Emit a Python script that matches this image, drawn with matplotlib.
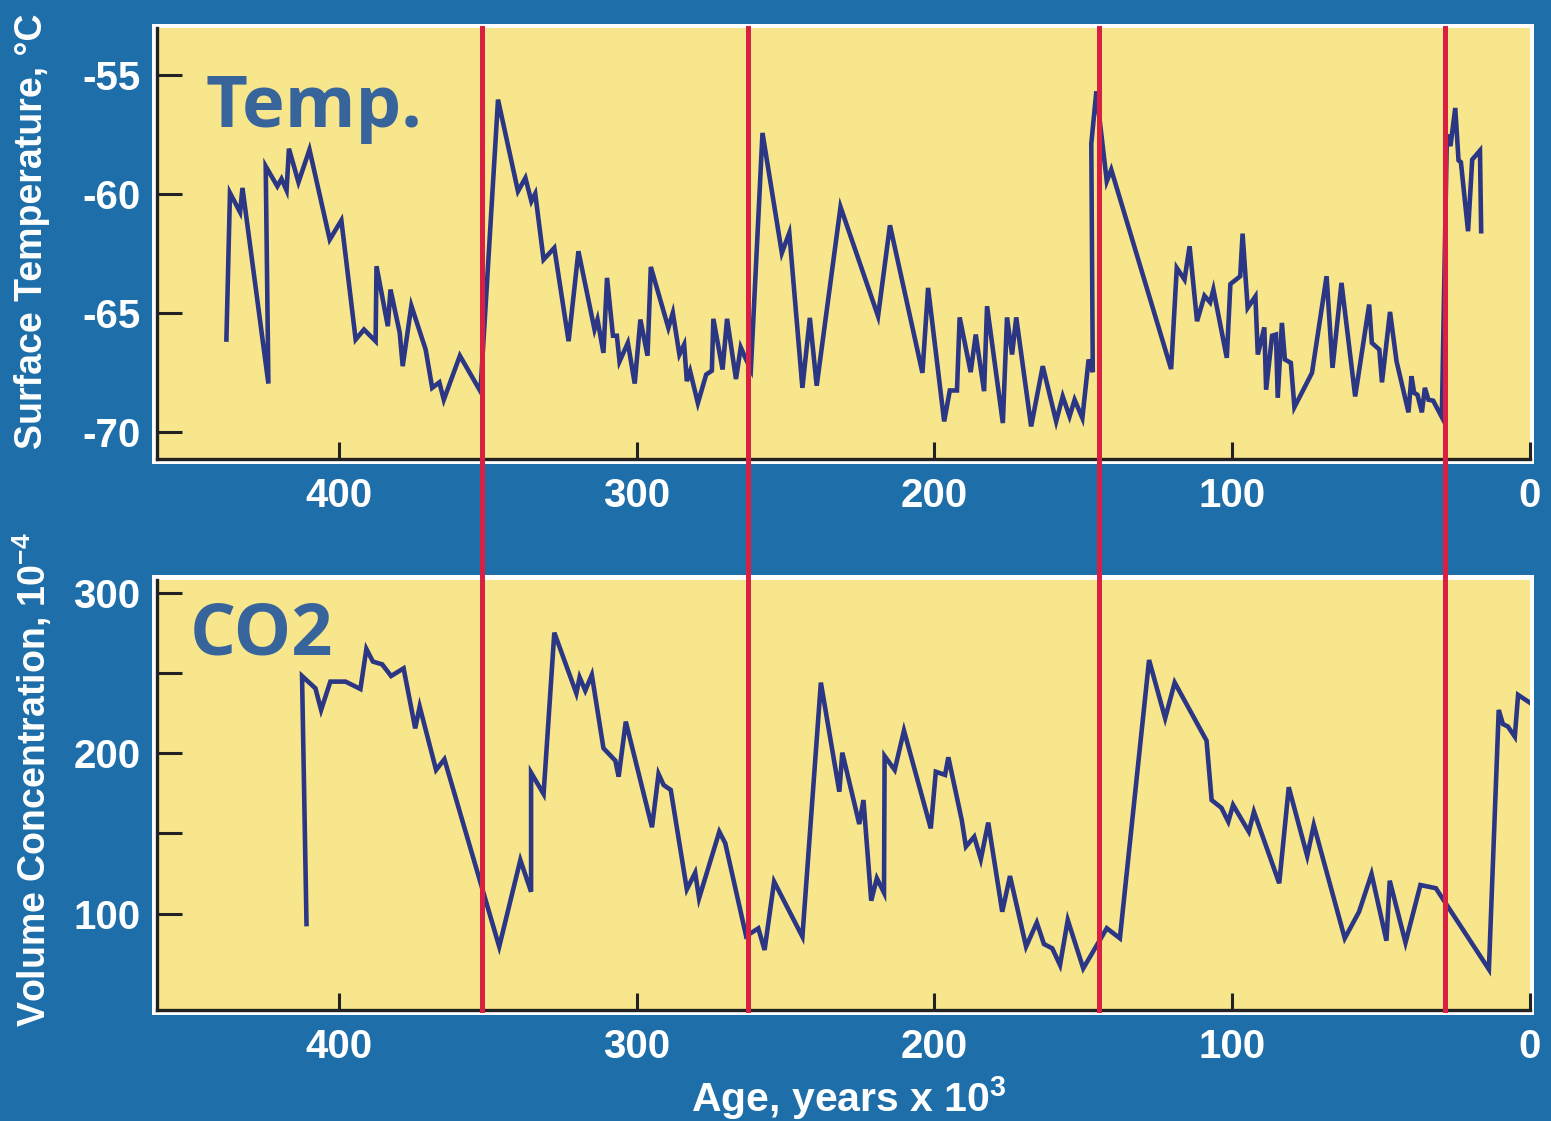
import matplotlib
matplotlib.use("Agg")
import matplotlib.pyplot as plt
from matplotlib.patches import Rectangle
from matplotlib.lines import Line2D
import matplotlib.transforms as mtrans
from matplotlib.ticker import FixedLocator, FuncFormatter

plt.rcParams['mathtext.default'] = 'regular'
plt.rcParams['axes.unicode_minus'] = False

# ---------------- data ----------------
temp_age = [437.7, 436.5, 433.1, 432.3, 423.6, 424.5, 420.6, 419.2, 417.5, 416.7, 413.5, 409.8,
            403.0, 399.1, 394.3, 391.5, 387.6, 387.3, 383.5, 382.6, 379.5, 378.5, 375.6, 370.8,
            368.6, 366.2, 364.7, 359.3, 352.4, 346.5, 339.8, 337.3, 335.3, 334.0, 331.2, 327.6,
            322.8, 319.5, 314.1, 313.1, 311.1, 309.9, 307.9, 306.6, 305.7, 302.9, 300.6, 298.7,
            296.3, 295.2, 289.3, 287.8, 285.6, 284.0, 283.1, 282.0, 279.4, 276.6, 274.7, 274.2,
            271.1, 269.6, 266.6, 265.0, 263.2, 261.6, 257.7, 251.2, 248.7, 244.3, 241.8, 239.5,
            231.5, 218.9, 214.9, 204.0, 202.1, 196.7, 194.8, 192.4, 191.5, 187.8, 186.1, 183.3,
            182.3, 177.0, 175.6, 173.9, 172.5, 167.5, 163.6, 159.1, 156.9, 154.6, 152.9, 150.3,
            148.2, 146.8, 147.3, 145.6, 142.1, 140.6, 120.5, 118.6, 116.0, 114.3, 111.8, 109.3,
            107.4, 106.3, 101.8, 100.6, 97.3, 96.5, 94.8, 92.2, 91.4, 89.2, 88.6, 86.6, 85.3,
            84.7, 83.3, 82.3, 80.3, 79.1, 73.2, 68.3, 66.3, 63.3, 58.7, 54.0, 53.1, 50.6, 49.7,
            47.0, 44.8, 40.8, 39.8, 38.9, 37.8, 36.3, 35.3, 34.1, 32.5, 29.6, 27.9, 26.7, 25.1,
            24.0, 23.2, 20.8, 19.4, 16.8, 16.4]
temp_val = [-66.13, -59.97, -60.78, -59.76, -67.98, -58.85, -59.69, -59.38, -59.86, -58.11, -59.52, -58.15,
            -61.93, -61.12, -66.13, -65.71, -66.2, -63.05, -65.57, -64.03, -65.85, -67.25, -64.71, -66.55,
            -68.16, -67.93, -68.66, -66.81, -68.31, -56.05, -59.90, -59.34, -60.32, -60.0, -62.77, -62.28,
            -66.2, -62.42, -65.71, -65.29, -66.69, -63.54, -65.97, -65.97, -67.05, -66.27, -67.98, -65.29,
            -66.81, -63.08, -65.64, -65.01, -66.76, -66.34, -67.88, -67.46, -68.8, -67.6, -67.44, -65.26,
            -67.39, -65.26, -67.79, -66.46, -66.97, -67.39, -57.45, -62.49, -61.65, -68.16, -65.22, -68.07,
            -60.56, -65.15, -61.33, -67.53, -63.96, -69.57, -68.27, -68.27, -65.2, -67.5, -65.92, -68.3,
            -64.73, -69.64, -65.2, -66.76, -65.2, -69.78, -67.25, -69.57, -68.52, -69.36, -68.66, -69.43,
            -66.97, -67.5, -57.9, -55.7, -59.48, -58.99, -67.37, -63.12, -63.61, -62.21, -65.36, -64.29,
            -64.57, -64.03, -66.9, -63.8, -63.47, -61.68, -64.8, -64.32, -66.76, -65.62, -68.24, -65.97, -65.92,
            -68.58, -65.43, -66.97, -67.11, -68.97, -67.53, -63.47, -67.32, -63.75, -68.52, -64.66, -66.27, -66.55, -67.93,
            -64.97, -67.05, -69.19, -67.67, -68.37, -68.45, -69.19, -68.16, -68.66, -68.7, -69.39, -57.52, -58.0, -56.4,
            -58.6, -58.68, -61.58, -58.57, -58.19, -61.58]

co2_age = [410.8, 412.3, 407.8, 405.9, 402.8, 397.7, 392.7, 390.7, 388.5, 385.4, 382.4, 378.2,
           374.3, 372.8, 367.3, 364.5, 346.1, 339.0, 335.4, 335.4, 331.2, 327.6, 320.2, 319.1,
           317.2, 315.0, 311.1, 307.1, 306.0, 303.6, 294.8, 292.6, 290.9, 288.5, 283.1, 280.3,
           279.0, 272.2, 270.2, 263.2, 259.1, 257.0, 253.8, 244.3, 238.1, 231.9, 230.9, 225.2,
           223.8, 221.2, 219.3, 216.9, 216.7, 213.3, 210.2, 201.2, 199.5, 196.4, 195.3, 190.8,
           189.4, 186.6, 184.4, 181.9, 177.2, 174.6, 169.2, 165.6, 163.2, 160.4, 157.8, 155.2,
           150.0, 142.1, 137.7, 127.9, 122.5, 119.3, 108.6, 106.9, 103.6, 101.3, 99.7, 94.4,
           92.7, 84.2, 81.0, 74.8, 72.6, 62.2, 57.4, 53.2, 48.2, 47.1, 41.8, 36.8, 31.6, 29.4,
           13.8, 10.5, 9.1, 7.4, 5.1, 4.0, 0.1]
co2_val = [93.4, 248.4, 240.7, 227.2, 244.9, 244.9, 240.3, 265.3, 257.4, 255.7, 248.4, 253.2,
           215.7, 229.3, 189.7, 196.4, 79.3, 133.4, 113.6, 188.0, 174.7, 275.5, 237.6, 247.6,
           239.3, 249.1, 203.3, 195.5, 185.5, 219.9, 153.9, 187.2, 180.3, 177.2, 115.1, 125.5,
           109.5, 151.1, 143.9, 85.9, 90.7, 77.2, 119.9, 85.5, 244.3, 176.1, 200.5, 155.9,
           170.9, 108.0, 122.0, 113.0, 198.4, 189.7, 214.3, 153.2, 188.6, 186.6, 197.6, 158.4,
           141.8, 148.0, 133.9, 156.8, 101.1, 123.4, 79.3, 94.3, 80.9, 78.2, 67.8, 95.9,
           65.7, 90.8, 84.5, 258.4, 222.0, 244.3, 208.0, 170.9, 166.0, 157.4, 167.8, 151.1,
           163.6, 118.9, 178.9, 135.9, 155.3, 84.5, 101.1, 124.7, 83.0, 120.5, 81.8, 117.8, 115.8, 109.5,
           65.1, 227.2, 218.4, 216.8, 210.5, 236.6, 231.8]

marker_ages = [351.9, 262.4, 144.7, 28.4]

x_ticks = [400, 300, 200, 100, 0]
temp_ticks = [-55, -60, -65, -70]
co2_ticks = [100, 150, 200, 250, 300]
co2_labelled = [100, 200, 300]

# ---------------- style ----------------
BLUE = "#1e6fa9"
YELLOW = "#f8e68d"
NAVY = "#2b3684"
RED = "#d91f42"
TITLE = "#37649a"
SPINE = "#222222"

W, H = 1551, 1121
fig = plt.figure(figsize=(W / 100, H / 100), dpi=100, facecolor=BLUE)


def rect(l, t, r, b):
    return [l / W, 1 - b / H, (r - l) / W, (b - t) / H]


# white frames behind the axes
for (l, t, r, b) in [(152, 24, 1534, 464), (152, 575, 1534, 1015)]:
    fig.patches.append(Rectangle((l / W, 1 - b / H), (r - l) / W, (b - t) / H,
                                 transform=fig.transFigure, facecolor="white",
                                 edgecolor="none", zorder=-5))

ax1 = fig.add_axes(rect(157, 28, 1530, 459))
ax2 = fig.add_axes(rect(157, 580, 1530, 1010))

for ax in (ax1, ax2):
    ax.set_facecolor(YELLOW)
    ax.set_xlim(461, 0)
    for s in ("top", "right"):
        ax.spines[s].set_visible(False)
    for s in ("left", "bottom"):
        ax.spines[s].set_color(SPINE)
        ax.spines[s].set_linewidth(2.4)
    ax.set_xticks(x_ticks)
    ax.tick_params(axis="x", direction="in", length=12, width=2.2, color=SPINE,
                   labelcolor="white", pad=13)
    ax.tick_params(axis="y", direction="in", length=18, width=2.2, color=SPINE,
                   labelcolor="white", pad=12)

ax1.plot(temp_age, temp_val, color=NAVY, lw=3.3, solid_joinstyle="miter", zorder=3)
ax1.set_ylim(-71.15, -53.04)
ax1.set_yticks(temp_ticks)

ax2.plot(co2_age, co2_val, color=NAVY, lw=3.3, solid_joinstyle="miter", zorder=3)
ax2.set_ylim(39.7, 308.4)
ax2.yaxis.set_major_locator(FixedLocator(co2_ticks))
ax2.yaxis.set_major_formatter(FuncFormatter(lambda v, p: f"{int(round(v))}" if int(round(v)) in co2_labelled else ""))

for ax in (ax1, ax2):
    for lab in ax.get_xticklabels() + ax.get_yticklabels():
        lab.set_family(["Liberation Sans", "DejaVu Sans"])
        lab.set_weight("bold")
        lab.set_size(29)
        lab.set_color("white")

# big panel titles
ax1.text(0.035, 0.770, "Temp.", transform=ax1.transAxes, ha="left", va="baseline",
         fontsize=52, fontweight="bold", color=TITLE, family=["Open Sans", "DejaVu Sans"], zorder=4)
ax2.text(0.024, 0.8256, "CO2", transform=ax2.transAxes, ha="left", va="baseline",
         fontsize=52, fontweight="bold", color=TITLE, family=["Open Sans", "DejaVu Sans"], zorder=4)

# axis labels
labfont = dict(family=["Liberation Sans", "DejaVu Sans"], weight="bold", color="white")
fig.text(32 / W, 1 - 231 / H, "Surface Temperature, °C", rotation=90, ha="center", va="center",
         fontsize=27, **labfont)
fig.text(32 / W, 1 - 780 / H, "Volume Concentration, 10$^{-4}$", rotation=90, ha="center",
         va="center", fontsize=27, **labfont)
fig.text(849 / W, 1 - 1098 / H, "Age, years x 10$^{3}$", ha="center", va="center",
         fontsize=29.5, family=["Liberation Sans", "DejaVu Sans"], weight="bold", color="white")

# red marker lines spanning both panels
top_f = 1 - 28 / H
bot_f = 1 - 1010 / H
tr = mtrans.blended_transform_factory(ax2.transData, fig.transFigure)
for a in marker_ages:
    fig.add_artist(Line2D([a, a], [bot_f, top_f], transform=tr, color=RED, lw=3.6, zorder=5))

fig.savefig("out.png", dpi=100, facecolor=BLUE)
